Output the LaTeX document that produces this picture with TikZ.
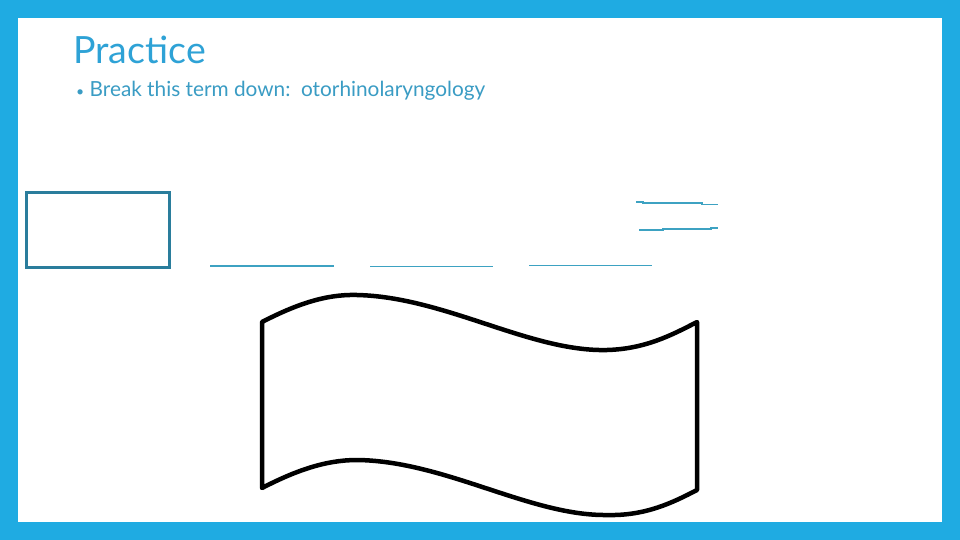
\documentclass[tikz,border=0pt]{standalone}
\usepackage{fontspec}
\setmainfont{Lato}
\definecolor{frameblue}{HTML}{1FABE2}
\definecolor{titleblue}{HTML}{2EA2D6}
\definecolor{textblue}{HTML}{3A9CC4}
\definecolor{boxteal}{HTML}{2A7D9C}
\definecolor{lineteal}{HTML}{3DA2C2}
\tikzset{
  blank/.style={draw=lineteal, line width=1.3pt},
  banner/.style={draw=black, line width=4.5pt, line join=round, fill=white},
}
\begin{document}
\begin{tikzpicture}[x=1pt,y=-1pt]
\useasboundingbox (0,0) rectangle (960,540);
\fill[frameblue] (0,0) rectangle (960,540);
\fill[white] (18,18) rectangle (942,522);
\node[anchor=base west, inner sep=0, text=titleblue, font=\fontsize{37.5}{40}\selectfont] (title) at (73,64) {Practice};
\node[anchor=base west, inner sep=0, text=textblue, font=\fontsize{20.8}{24}\selectfont] (bullet) at (76,97) {{\fontsize{14}{14}\selectfont\textbullet}\ Break this term down:\ \ otorhinolaryngology};
\node[draw=boxteal, line width=3pt, minimum width=143pt, minimum height=75pt, inner sep=0, anchor=north west] (box) at (24.5,190.5) {};
\coordinate (l1a) at (210,266); \coordinate (l1b) at (334,266);
\coordinate (l2a) at (370,266.5); \coordinate (l2b) at (493,266.5);
\coordinate (l3a) at (529,265.5); \coordinate (l3b) at (652,265.5);
\draw[blank] (l1a) -- (l1b);
\draw[blank] (l2a) -- (l2b);
\draw[blank] (l3a) -- (l3b);
\coordinate (t1a) at (636,202); \coordinate (t1b) at (718,204.5);
\coordinate (t2a) at (639,230); \coordinate (t2b) at (718,228);
\draw[blank] (t1a) -- (643,202) -- (643,203) -- (702,203) -- (702,204.5) -- (t1b);
\draw[blank] (t2a) -- (663,230) -- (663,229) -- (711,229) -- (711,228) -- (t2b);
\draw[banner] (262,322)
  .. controls (295,305) and (325,294) .. (357,295)
  .. controls (445,297) and (530,352) .. (607,350)
  .. controls (645,349) and (672,335) .. (697,322)
  -- (697,490)
  .. controls (672,503) and (645,516) .. (607,515)
  .. controls (530,516) and (445,461) .. (357,460)
  .. controls (325,460) and (295,471) .. (262,488)
  -- cycle;
\end{tikzpicture}
\end{document}
